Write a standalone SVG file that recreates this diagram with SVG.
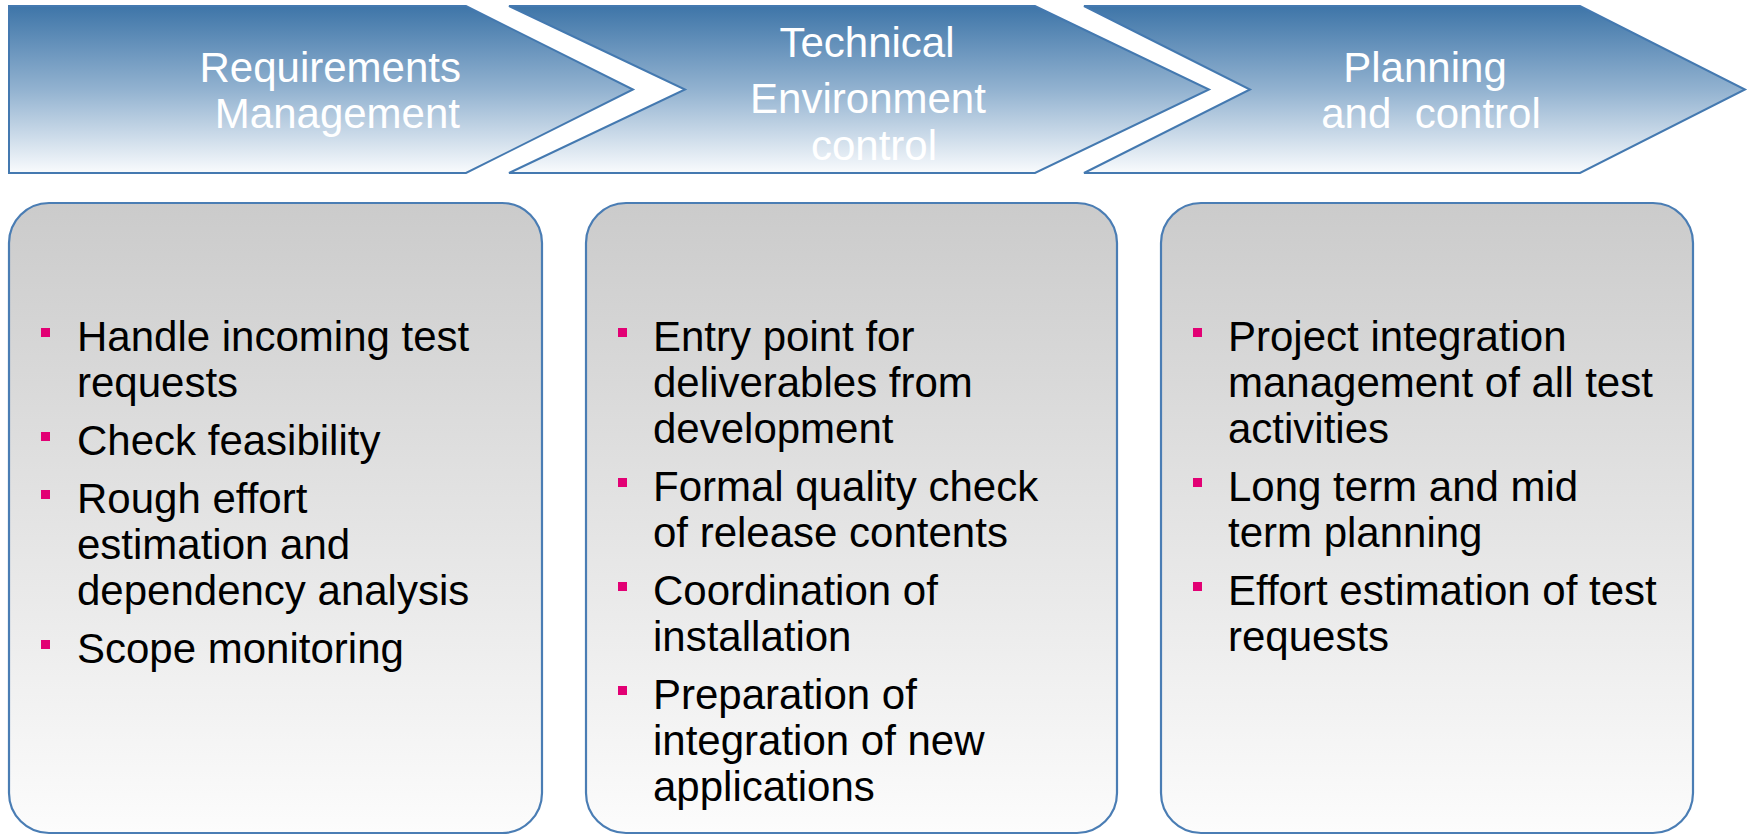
<svg xmlns="http://www.w3.org/2000/svg" width="1750" height="835" viewBox="0 0 1750 835">
  <defs>
    <linearGradient id="chevFill" gradientUnits="userSpaceOnUse" x1="0" y1="6" x2="0" y2="173">
      <stop offset="0" stop-color="#3e75a8"/>
      <stop offset="0.5" stop-color="#92b2d0"/>
      <stop offset="1" stop-color="#f9fbfd"/>
    </linearGradient>
    <linearGradient id="boxFill" gradientUnits="userSpaceOnUse" x1="0" y1="203" x2="0" y2="833">
      <stop offset="0" stop-color="#cbcbcb"/>
      <stop offset="1" stop-color="#fcfcfc"/>
    </linearGradient>
    <style>
      .chev { fill: url(#chevFill); stroke: #4479b0; stroke-width: 2; stroke-linejoin: miter; }
      .box { fill: url(#boxFill); stroke: #4a7db4; stroke-width: 2.2; }
      .head { font-family: "Liberation Sans", Arial, sans-serif; font-size: 42px; fill: #ffffff; }
      .item { font-family: "Liberation Sans", Arial, sans-serif; font-size: 42px; fill: #000000; }
      .bullet { fill: #e20074; }
    </style>
  </defs>

  <rect width="1750" height="835" fill="#ffffff"/>

  <!-- phase chevrons -->
  <g id="phase-requirements">
    <polygon class="chev" points="9,6 466,6 633,89.5 466,173 9,173"/>
    <text class="head" text-anchor="end" x="461" y="82">Requirements</text>
    <text class="head" text-anchor="end" x="460" y="128">Management</text>
  </g>
  <g id="phase-environment">
    <polygon class="chev" points="509,6 1035,6 1209,89.5 1035,173 509,173 685,89.5"/>
    <text class="head" text-anchor="middle" x="867" y="57">Technical</text>
    <text class="head" text-anchor="middle" x="868" y="113">Environment</text>
    <text class="head" text-anchor="middle" x="874" y="160">control</text>
  </g>
  <g id="phase-planning">
    <polygon class="chev" points="1084,6 1580,6 1745,89.5 1580,173 1084,173 1250,89.5"/>
    <text class="head" text-anchor="middle" x="1425" y="82">Planning</text>
    <text class="head" text-anchor="middle" x="1431" y="128" xml:space="preserve">and  control</text>
  </g>

  <!-- activity boxes -->
  <g id="box-requirements">
    <rect class="box" x="9" y="203" width="533" height="630" rx="40" ry="40"/>
    <rect class="bullet" x="41" y="328" width="9" height="9"/>
    <text class="item" x="77" y="351">Handle incoming test</text>
    <text class="item" x="77" y="397">requests</text>
    <rect class="bullet" x="41" y="432" width="9" height="9"/>
    <text class="item" x="77" y="455">Check feasibility</text>
    <rect class="bullet" x="41" y="490" width="9" height="9"/>
    <text class="item" x="77" y="513">Rough effort</text>
    <text class="item" x="77" y="559">estimation and</text>
    <text class="item" x="77" y="605">dependency analysis</text>
    <rect class="bullet" x="41" y="640" width="9" height="9"/>
    <text class="item" x="77" y="663">Scope monitoring</text>
  </g>

  <g id="box-environment">
    <rect class="box" x="586" y="203" width="531" height="630" rx="40" ry="40"/>
    <rect class="bullet" x="618" y="328" width="9" height="9"/>
    <text class="item" x="653" y="351">Entry point for</text>
    <text class="item" x="653" y="397">deliverables from</text>
    <text class="item" x="653" y="443">development</text>
    <rect class="bullet" x="618" y="478" width="9" height="9"/>
    <text class="item" x="653" y="501">Formal quality check</text>
    <text class="item" x="653" y="547">of release contents</text>
    <rect class="bullet" x="618" y="582" width="9" height="9"/>
    <text class="item" x="653" y="605">Coordination of</text>
    <text class="item" x="653" y="651">installation</text>
    <rect class="bullet" x="618" y="686" width="9" height="9"/>
    <text class="item" x="653" y="709">Preparation of</text>
    <text class="item" x="653" y="755">integration of new</text>
    <text class="item" x="653" y="801">applications</text>
  </g>

  <g id="box-planning">
    <rect class="box" x="1161" y="203" width="532" height="630" rx="40" ry="40"/>
    <rect class="bullet" x="1193" y="328" width="9" height="9"/>
    <text class="item" x="1228" y="351">Project integration</text>
    <text class="item" x="1228" y="397">management of all test</text>
    <text class="item" x="1228" y="443">activities</text>
    <rect class="bullet" x="1193" y="478" width="9" height="9"/>
    <text class="item" x="1228" y="501">Long term and mid</text>
    <text class="item" x="1228" y="547">term planning</text>
    <rect class="bullet" x="1193" y="582" width="9" height="9"/>
    <text class="item" x="1228" y="605">Effort estimation of test</text>
    <text class="item" x="1228" y="651">requests</text>
  </g>

  <!-- no connectors between the phases -->
  <g id="connectors"/>
</svg>
